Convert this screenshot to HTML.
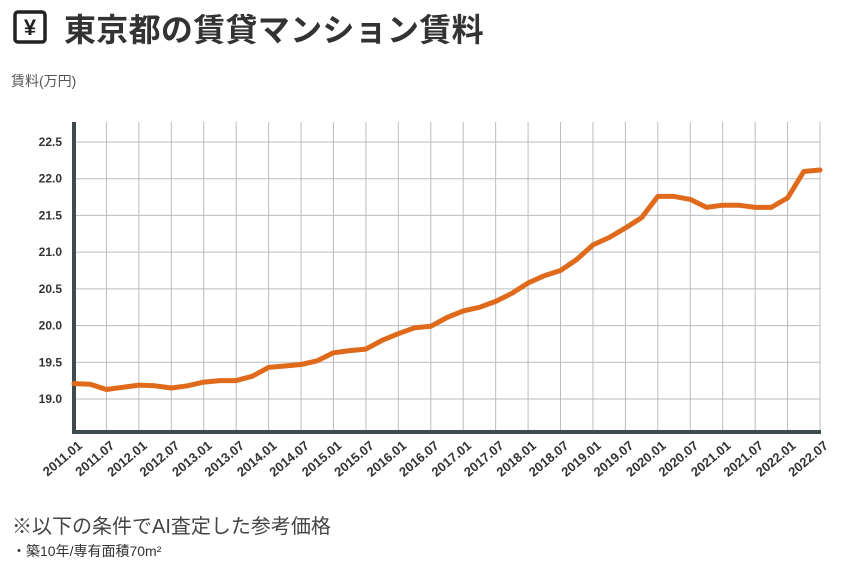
<!DOCTYPE html>
<html><head><meta charset="utf-8"><style>
body{margin:0;background:#fff;width:861px;height:567px;overflow:hidden;font-family:"Liberation Sans","Noto Sans CJK JP",sans-serif;color:#333}
</style></head><body>
<svg width="861" height="567" xmlns="http://www.w3.org/2000/svg" id="s">
<rect x="15" y="12" width="30" height="30" rx="3" fill="none" stroke="#222" stroke-width="3.5"/>
<text x="30" y="35" font-size="22" font-weight="bold" text-anchor="middle" fill="#222" font-family="Liberation Sans,sans-serif">¥</text>
<text x="64" y="41" font-size="32" font-weight="bold" fill="#333" letter-spacing="0.3" font-family="Liberation Sans,Noto Sans CJK JP,sans-serif">東京都の賃貸マンション賃料</text>
<text x="11" y="86" font-size="14" fill="#555" font-family="Liberation Sans,Noto Sans CJK JP,sans-serif">賃料(万円)</text>
<g id="grid"></g>
<line x1="74" y1="122" x2="74" y2="434" stroke="#3f4a4e" stroke-width="4"/>
<line x1="72" y1="432" x2="821" y2="432" stroke="#3f4a4e" stroke-width="4"/>
<path id="p" fill="none" stroke="#e06a1b" stroke-width="5" stroke-linejoin="round" stroke-linecap="round"/>
<g id="lab"></g>
<text x="12" y="533" font-size="20" fill="#444" font-family="Liberation Sans,Noto Sans CJK JP,sans-serif">※以下の条件でAI査定した参考価格</text>
<text x="12" y="556" font-size="14" fill="#333" font-family="Liberation Sans,Noto Sans CJK JP,sans-serif">・築10年/専有面積70m²</text>
</svg>
<script>
var ns="http://www.w3.org/2000/svg",g=document.getElementById('grid'),lab=document.getElementById('lab');
function el(t,a,p,txt){var e=document.createElementNS(ns,t);for(var k in a)e.setAttribute(k,a[k]);if(txt)e.textContent=txt;p.appendChild(e);return e;}
var sp=(820-74)/23;
for(var i=1;i<24;i++){var x=74+i*sp;el('line',{x1:x,y1:122,x2:x,y2:432,stroke:'#bbb','stroke-width':1},g);}
var yv=['22.5','22.0','21.5','21.0','20.5','20.0','19.5','19.0'];
for(var j=0;j<8;j++){var y=142+j*(257/7);el('line',{x1:74,y1:y,x2:820,y2:y,stroke:'#bbb','stroke-width':1},g);
el('text',{x:62,y:y+4,'font-size':12,'font-weight':'bold','text-anchor':'end',fill:'#333'},lab,yv[j]);}
for(var i=0;i<24;i++){var x=74+i*sp;var yr=2011+Math.floor(i/2),m=i%2?'07':'01';
el('text',{x:x+9,y:447,'font-size':13,'font-weight':'bold','text-anchor':'end',fill:'#333',transform:'rotate(-40 '+(x+9)+' 447)'},lab,yr+'.'+m);}
var v=[19.21,19.20,19.13,19.16,19.19,19.18,19.15,19.18,19.23,19.25,19.25,19.31,19.43,19.45,19.47,19.52,19.63,19.66,19.68,19.80,19.89,19.97,19.99,20.11,20.20,20.25,20.33,20.44,20.58,20.68,20.75,20.90,21.10,21.20,21.33,21.47,21.76,21.76,21.72,21.61,21.64,21.64,21.61,21.61,21.74,22.10,22.12];
var d='';for(var k=0;k<v.length;k++){var x=74+k*(820-74)/(v.length-1),y=399-(v[k]-19)*73.4;d+=(k?'L':'M')+x.toFixed(1)+' '+y.toFixed(1);}
document.getElementById('p').setAttribute('d',d);
</script>
</body></html>
